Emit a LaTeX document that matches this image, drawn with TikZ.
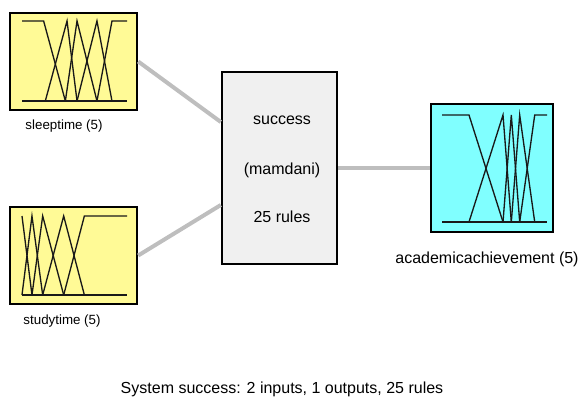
\documentclass[tikz,border=0pt]{standalone}
\usepackage{fontspec}
\setmainfont{Liberation Sans}

\definecolor{inyellow}{RGB}{255,250,150}
\definecolor{outcyan}{RGB}{128,255,255}
\definecolor{rulegray}{RGB}{240,240,240}
\definecolor{wiregray}{RGB}{190,190,190}

\tikzset{
	varbox/.style={draw=black, line width=1.8pt, inner sep=0pt},
	wire/.style={wiregray, line width=3pt},
	mf/.style={black!90, line width=1pt},
	lbl/.style={font=\fontsize{12}{14}\selectfont, inner sep=0pt},
	smalllbl/.style={font=\fontsize{10}{12}\selectfont, inner sep=0pt}
}

\begin{document}
\begin{tikzpicture}[x=0.75pt,y=-0.75pt]
	\useasboundingbox (0,0) rectangle (581,399);

	% the three variables and the rule block
	\node[varbox, fill=inyellow, minimum width=95.25pt, minimum height=72.75pt] (sleep) at (73.5,61.5) {};
	\node[varbox, fill=inyellow, minimum width=95.25pt, minimum height=72.75pt] (study) at (73.5,255.5) {};
	\node[varbox, fill=rulegray, minimum width=86.25pt, minimum height=144pt] (rule) at (279.5,168) {};
	\node[varbox, fill=outcyan, minimum width=91.5pt, minimum height=96pt] (achieve) at (492,168) {};

	\node[lbl] (ruletop) at (282,120) {success};
	\node[lbl] (rulemid) at (282,170) {(mamdani)};
	\node[lbl] (rulebot) at (282,217) {25 rules};

	\coordinate (in1) at ([yshift=34.5pt]rule.west);
	\coordinate (in2) at ([yshift=-27.75pt]rule.west);

	\draw[wire] (sleep.east)--(in1);
	\draw[wire] (study.east)--(in2);
	\draw[wire] (rule.east)--(achieve.west);

	% sleeptime membership functions
	\begin{scope}[shift={(22,101)}, x=78.75pt, y=60pt]
		\draw[mf] (0,0)--(1,0);
		\draw[mf] (0,1)--(0.206,1)--(0.413,0);
		\foreach \a/\b/\c in {0.222/0.429/0.524, 0.413/0.524/0.714, 0.524/0.714/0.857}
			\draw[mf] (\a,0)--(\b,1)--(\c,0);
		\draw[mf] (0.714,0)--(0.857,1)--(1,1);
	\end{scope}

	% studytime membership functions
	\begin{scope}[shift={(22,295)}, x=78.75pt, y=59.25pt]
		\draw[mf] (0,0)--(1,0);
		\draw[mf] (0,1)--(0.095,0);
		\foreach \a/\b/\c in {0/0.095/0.197, 0.095/0.197/0.397, 0.197/0.397/0.594}
			\draw[mf] (\a,0)--(\b,1)--(\c,0);
		\draw[mf] (0.397,0)--(0.594,1)--(1,1);
	\end{scope}

	% academicachievement membership functions
	\begin{scope}[shift={(442,222)}, x=78.75pt, y=80.25pt]
		\draw[mf] (0,0)--(1,0);
		\draw[mf] (0,1)--(0.257,1)--(0.581,0);
		\foreach \a/\b/\c in {0.257/0.581/0.660, 0.581/0.660/0.740, 0.660/0.740/0.883}
			\draw[mf] (\a,0)--(\b,1)--(\c,0);
		\draw[mf] (0.740,0)--(0.883,1)--(1,1);
	\end{scope}

	\node[smalllbl] (sleeplbl) at (64,126) {sleeptime (5)};
	\node[smalllbl] (studylbl) at (62,321) {studytime (5)};
	\node[lbl] (achievelbl) at (487,259) {academicachievement (5)};

	\node[lbl] (caption) at (282,389) {System success: 2 inputs, 1 outputs, 25 rules};
\end{tikzpicture}
\end{document}
